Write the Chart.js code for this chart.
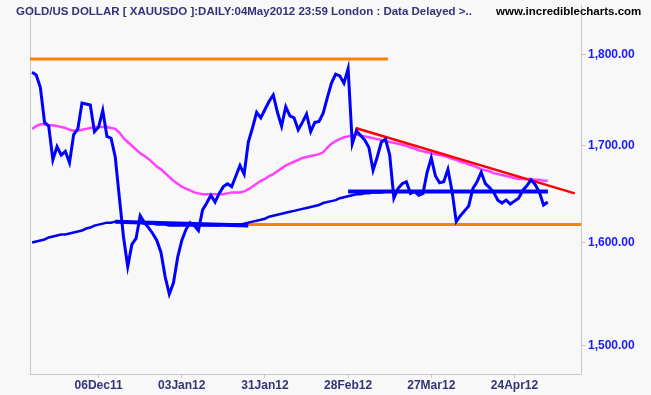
<!DOCTYPE html>
<html>
<head>
<meta charset="utf-8">
<script src="https://cdn.jsdelivr.net/npm/chart.js@4.4.0/dist/chart.umd.min.js"></script>
<style>
  body { margin: 0; background: #f9f8f9; }
  #wrap { position: relative; width: 651px; height: 395px; }
  .hdr { position: absolute; top: 5px; font: bold 11.5px "Liberation Sans", Arial, sans-serif; white-space: nowrap; }
  #title { left: 16px; color: #333377; }
  #site { left: 496px; color: #000; }
</style>
</head>
<body>
<div id="wrap">
  <canvas id="goldChart" width="651" height="395"></canvas>
  <div class="hdr" id="title">GOLD/US DOLLAR [ XAUUSDO ]:DAILY:04May2012 23:59 London : Data Delayed &gt;..</div>
  <div class="hdr" id="site">www.incrediblecharts.com</div>
</div>
<script>
// daily closes, trading-day index 0 = 14Nov11 ... 124 = 04May12
const closes = [
  1780, 1777, 1763, 1725, 1721, 1685, 1699, 1690, 1694, 1682,
  1712, 1718, 1746, 1745, 1744, 1715, 1720, 1738, 1710, 1708,
  1688, 1645, 1605, 1576, 1598, 1604, 1627, 1620, 1615, 1609,
  1602, 1590, 1566, 1549, 1560, 1585, 1602, 1613, 1620, 1617,
  1612, 1633, 1640, 1648, 1641, 1650, 1657, 1660, 1657, 1668,
  1679, 1670, 1704, 1719, 1736, 1730, 1739, 1748, 1755, 1736,
  1721, 1742, 1732, 1730, 1717, 1725, 1734, 1715, 1725, 1726,
  1735, 1752, 1768, 1778, 1776, 1768, 1784, 1702, 1716, 1711,
  1706, 1698, 1674, 1688, 1704, 1707, 1690, 1645, 1655, 1660,
  1662, 1650, 1652, 1648, 1650, 1672, 1687, 1668, 1661, 1662,
  1675, 1652, 1621, 1627, 1632, 1637, 1655, 1662, 1672, 1660,
  1656, 1651, 1643, 1640, 1643, 1639, 1642, 1645, 1653, 1658,
  1664, 1659, 1651, 1638, 1641
];
// short moving average (magenta)
const maShort = [
  1718, 1721, 1723, 1723, 1722, 1722, 1721, 1720, 1719, 1717,
  1716, 1716, 1717, 1718, 1719, 1720, 1720, 1720, 1720, 1719,
  1718, 1714, 1708, 1704, 1700, 1696, 1692, 1689, 1686, 1682,
  1678, 1675, 1671, 1667, 1663, 1660, 1657, 1655, 1653, 1651,
  1650, 1649, 1649, 1649, 1649, 1649, 1649, 1650, 1651, 1651,
  1651, 1652, 1654, 1657, 1660, 1663, 1665, 1668, 1670, 1673,
  1676, 1679, 1681, 1683, 1685, 1687, 1688, 1689, 1690, 1691,
  1693, 1698, 1702, 1705, 1707, 1709, 1710, 1711, 1712, 1711,
  1710, 1709, 1708, 1707, 1706, 1705, 1704, 1703, 1702, 1701,
  1700, 1698, 1697, 1695, 1694, 1693, 1692, 1691, 1690, 1689,
  1688, 1686, 1685, 1683, 1682, 1680, 1679, 1677, 1675, 1674,
  1673, 1671, 1670, 1669, 1668, 1667, 1666, 1665, 1665, 1665,
  1665, 1664, 1664, 1663, 1663
];
// long moving average (blue)
const maLong = [
  1600, 1601, 1602, 1603, 1605, 1606, 1607, 1608, 1608, 1609,
  1610, 1611, 1612, 1614, 1615, 1617, 1618, 1619, 1620, 1620,
  1621, 1621, 1621, 1621, 1620, 1620, 1620, 1619, 1619, 1619,
  1618, 1618, 1618, 1617, 1617, 1617, 1617, 1617, 1617, 1617,
  1617, 1617, 1617, 1617, 1617, 1617, 1618, 1618, 1618, 1618,
  1618, 1619, 1620, 1621, 1622, 1623, 1624, 1626, 1627, 1628,
  1629, 1630, 1631, 1632, 1633, 1634, 1635, 1636, 1637, 1638,
  1640, 1641, 1642, 1643, 1645, 1646, 1647, 1648, 1649, 1649,
  1650, 1650, 1651, 1651, 1651, 1652, 1652, 1652, 1652, 1652,
  1652, 1652, 1652, 1652, 1652, 1652, 1652, 1652, 1652, 1652,
  1652, 1652, 1652, 1652, 1652, 1652, 1652, 1652, 1652, 1652,
  1652, 1652, 1652, 1652, 1652, 1652, 1652, 1652, 1652, 1652,
  1652, 1652, 1652, 1652, 1652
];
const tickIdx = [16, 36, 56, 76, 96, 116];
const tickLabels = ['06Dec11', '03Jan12', '31Jan12', '28Feb12', '27Mar12', '24Apr12'];
const priceTicks = [1500, 1600, 1700, 1800];

// drawn lines (trading-day index, price)
const resistX = [-0.5, 85.6], resistY = [1795, 1795];
const supportX = [41, 133], supportY = [1618, 1618];
const trendX = [77.8, 130.5], trendY = [1719, 1650];
const baseAX = [20, 52], baseAY = [1621, 1617];
const baseBX = [76, 124], baseBY = [1652, 1652];

const pts = (xs, ys) => xs.map((x, i) => ({ x, y: ys[i] }));
const series = arr => arr.map((y, i) => ({ x: i, y }));
const line = (data, color, width, order) => ({
  data, borderColor: color, borderWidth: width, order,
  pointRadius: 0, tension: 0, fill: false
});

const font = { family: '"Liberation Sans", Arial, sans-serif', size: 12, weight: 'bold' };
const gray = '#c8c8c8';

const frame = {
  id: 'frame',
  beforeDatasetsDraw(chart) {
    const { ctx, chartArea: a } = chart;
    ctx.save();
    ctx.strokeStyle = gray;
    ctx.lineWidth = 1;
    ctx.beginPath();
    ctx.moveTo(a.left + 0.5, a.top);
    ctx.lineTo(a.left + 0.5, a.bottom);
    ctx.stroke();
    ctx.restore();
  }
};

new Chart(document.getElementById('goldChart'), {
  type: 'line',
  data: {
    datasets: [
      line(series(closes), '#0000ff', 3, 0),
      line(pts(trendX, trendY), '#ff0000', 2.5, 1),
      line(pts(baseAX, baseAY), '#0000ff', 4, 2),
      line(pts(baseBX, baseBY), '#0000ff', 4, 2),
      line(series(maShort), '#ff40ff', 2.5, 3),
      line(series(maLong), '#0000ee', 2.5, 4),
      line(pts(resistX, resistY), '#ff8000', 3, 5),
      line(pts(supportX, supportY), '#ff8000', 3, 5)
    ]
  },
  options: {
    responsive: false,
    animation: false,
    layout: { padding: { left: 30, top: 5, right: 0, bottom: 0 } },
    plugins: { legend: { display: false }, tooltip: { enabled: false } },
    scales: {
      x: {
        type: 'linear', min: -0.5, max: 132,
        afterFit: s => { s.height = 21; s.paddingLeft = 0; s.paddingRight = 0; },
        afterBuildTicks: s => { s.ticks = tickIdx.map(v => ({ value: v })); },
        ticks: {
          autoSkip: false, maxRotation: 0, padding: 0, color: '#333377', font,
          callback: v => { const k = tickIdx.indexOf(v); return k < 0 ? '' : tickLabels[k]; }
        },
        grid: { drawOnChartArea: false, tickLength: 4, color: gray },
        border: { color: gray }
      },
      y: {
        type: 'logarithmic', position: 'right', min: 1473.4, max: 1856.7,
        afterFit: s => { s.width = 70; s.paddingTop = 0; s.paddingBottom = 0; },
        afterBuildTicks: s => { s.ticks = priceTicks.map(v => ({ value: v })); },
        ticks: {
          autoSkip: false, padding: 2, color: '#1a1aff', font,
          callback: v => v.toLocaleString('en-US', { minimumFractionDigits: 2, maximumFractionDigits: 2 })
        },
        grid: { drawOnChartArea: false, tickLength: 5, color: gray },
        border: { color: gray }
      }
    }
  },
  plugins: [frame]
});
</script>
</body>
</html>
